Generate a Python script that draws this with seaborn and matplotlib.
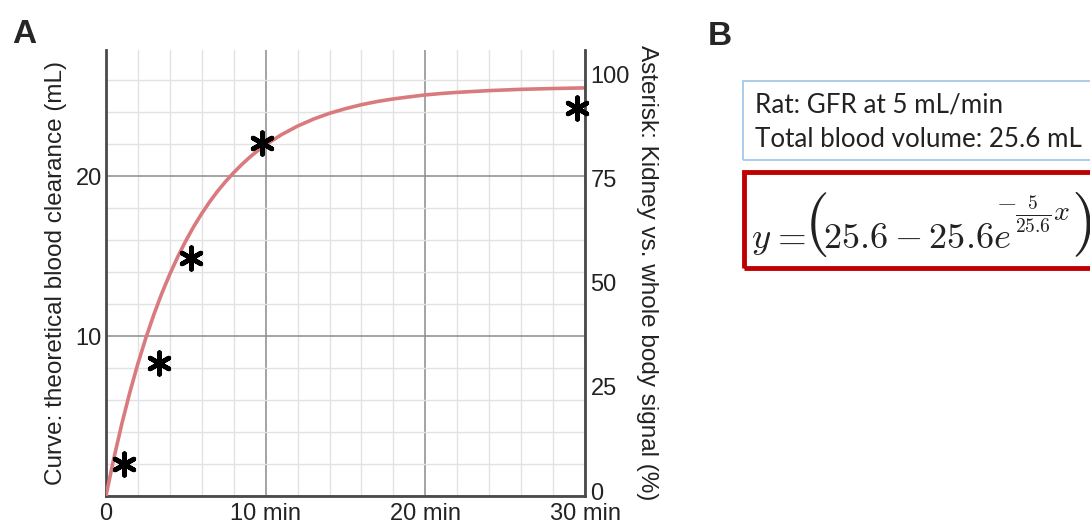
import seaborn as sns
import matplotlib.pyplot as plt
from matplotlib.patches import Rectangle

sns.set_style("white")
plt.rcParams['font.family'] = ['Liberation Sans', 'DejaVu Sans']
plt.rcParams['mathtext.fontset'] = 'cm'

# theoretical clearance curve (mL)
curve_time = [0, 0.5, 1, 1.5, 2, 2.5, 3, 3.5, 4, 4.5, 5, 5.5, 6, 6.5, 7, 7.5, 8, 8.5, 9, 9.5,
              10, 11, 12, 13, 14, 15, 16, 17, 18, 19, 20, 21, 22, 24, 26, 28, 30]
curve_ml = [0, 2.38, 4.54, 6.50, 8.28, 9.89, 11.35, 12.68, 13.88, 14.97, 15.96, 16.86, 17.67,
            18.41, 19.08, 19.68, 20.23, 20.73, 21.19, 21.60, 21.97, 22.61, 23.14, 23.58, 23.94,
            24.23, 24.48, 24.68, 24.84, 24.97, 25.09, 25.18, 25.25, 25.36, 25.44, 25.49, 25.53]

# asterisks: kidney vs whole body signal (%)
ast_time = [1.1, 3.3, 5.3, 9.8, 29.5]
ast_signal = [6.5, 30.8, 56.0, 83.7, 92.1]

x_ticks = [0, 10, 20, 30]
x_labels = ["0", "10 min", "20 min", "30 min"]
right_ticks = [0, 25, 50, 75, 100]

fig = plt.figure(figsize=(10.9, 5.28), dpi=100)
ax = fig.add_axes([0.0972, 0.0606, 0.4395, 0.8447])

sns.lineplot(x=curve_time, y=curve_ml, color="#d97b7e", lw=2.6, ax=ax, zorder=3)
ax.set_xlim(0, 30)
ax.set_ylim(0, 27.9)
ax.set_xticks(x_ticks)
ax.set_xticklabels(x_labels)
ax.set_xticks(range(0, 31, 2), minor=True)
ax.set_yticks([0, 10, 20])
ax.set_yticklabels(["", "10", "20"])
ax.set_yticks(range(0, 28, 2), minor=True)
ax.grid(which="major", color="#8c8c8c", lw=1.1)
ax.grid(which="minor", color="#e2e2e2", lw=1.0)
ax.tick_params(which="both", length=0, labelsize=17, colors="#222222")
ax.tick_params(axis="x", pad=5)
ax.tick_params(axis="y", pad=3)
for s in ["top", "right"]:
    ax.spines[s].set_visible(False)
for s in ["left", "bottom"]:
    ax.spines[s].set_color("#4a4a4a")
    ax.spines[s].set_linewidth(2)
ax.set_ylabel("Curve: theoretical blood clearance (mL)", fontsize=17.5, color="#222222", labelpad=6)

ax2 = ax.twinx()
sns.scatterplot(x=ast_time, y=ast_signal, marker=(6, 2, 0), s=240, color="black",
                edgecolor="black", linewidth=3.4, ax=ax2, zorder=5, clip_on=False)
ax2.set_ylim(-1.2, 106)
ax2.set_yticks(right_ticks)
ax2.tick_params(length=0, labelsize=17, colors="#222222", pad=4)
ax2.grid(False)
for s in ["top", "left", "bottom"]:
    ax2.spines[s].set_visible(False)
ax2.spines["right"].set_color("#4a4a4a")
ax2.spines["right"].set_linewidth(2)
ax2.set_ylabel("Asterisk: Kidney vs. whole body signal (%)", fontsize=17.5, color="#222222",
               rotation=-90, labelpad=20)

fig.text(0.011, 0.935, "A", fontsize=24, fontweight="bold", ha="left", va="center")
fig.text(0.649, 0.93, "B", fontsize=24, fontweight="bold", ha="left", va="center")

# info box
fig.patches.append(Rectangle((743 / 1090, 1 - 160 / 528), 400 / 1090, 79 / 528,
                             transform=fig.transFigure, fill=False, ec="#9dc3e6", lw=1.2))
fig.text(755 / 1090, 1 - 113 / 528, "Rat: GFR at 5 mL/min", fontsize=18.7,
         family=["Lato", "DejaVu Sans"], color="#222222", va="baseline")
fig.text(755 / 1090, 1 - 147 / 528, "Total blood volume: 25.6 mL", fontsize=18.7,
         family=["Lato", "DejaVu Sans"], color="#222222", va="baseline")

# equation box, the formula set in pieces so the brackets can be tall
fig.patches.append(Rectangle((744 / 1090, 1 - 268 / 528), 400 / 1090, 96 / 528,
                             transform=fig.transFigure, fill=False, ec="#c00000", lw=3.5))
eq_parts = [
    (751, 248, r"$y$", 26.5),
    (771, 248, r"$=$", 26.5),
    (804, 241, r"$($", 46),
    (823, 248, r"$25.6-25.6e$", 26.2),
    (996, 209, r"$-$", 19),
    (1015, 220, r"$\frac{5}{25.6}x$", 20),
    (1071, 241, r"$)$", 46),
]
for px, py, txt, fs in eq_parts:
    fig.text(px / 1090, 1 - py / 528, txt, fontsize=fs, color="#222222", va="baseline")

fig.savefig("out.png", dpi=100)
